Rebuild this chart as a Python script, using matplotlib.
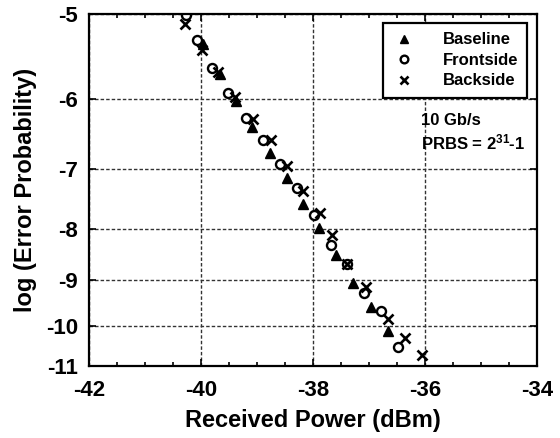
import numpy as np
import matplotlib
matplotlib.use("Agg")
import matplotlib.pyplot as plt

plt.rcParams['font.family'] = ['Liberation Sans', 'DejaVu Sans']
plt.rcParams['font.weight'] = 'bold'
plt.rcParams['axes.unicode_minus'] = False
plt.rcParams['mathtext.fontset'] = 'custom'
plt.rcParams['mathtext.rm'] = 'Liberation Sans:bold'
plt.rcParams['mathtext.default'] = 'rm'

# data (received power in dBm, log10 of error probability)
baseline_x = [-39.96, -39.66, -39.38, -39.09, -38.77, -38.46, -38.18, -37.89, -37.59, -37.29, -36.96, -36.66]
baseline_y = [-5.33, -5.68, -6.03, -6.37, -6.75, -7.13, -7.57, -7.99, -8.48, -9.06, -9.56, -10.13]

frontside_x = [-40.27, -40.07, -39.80, -39.52, -39.20, -38.89, -38.59, -38.29, -37.98, -37.68, -37.39, -37.09, -36.79, -36.48]
frontside_y = [-5.01, -5.28, -5.61, -5.92, -6.25, -6.56, -6.91, -7.29, -7.75, -8.29, -8.66, -9.27, -9.67, -10.50]

backside_x = [-40.29, -39.98, -39.70, -39.39, -39.07, -38.75, -38.46, -38.18, -37.88, -37.66, -37.39, -37.05, -36.66, -36.36, -36.05]
backside_y = [-5.11, -5.40, -5.66, -5.97, -6.26, -6.56, -6.94, -7.34, -7.71, -8.12, -8.66, -9.13, -9.85, -10.28, -10.70]

x_ticks = [-42, -40, -38, -36, -34]
y_ticks = [-5, -6, -7, -8, -9, -10, -11]

# BER style axis: compressed towards low probabilities
P = 0.15


def fwd(y):
    return np.power(np.clip(-np.asarray(y, dtype=float), 1e-3, None), -P)


def inv(f):
    return -np.power(np.clip(np.asarray(f, dtype=float), 1e-6, None), -1.0 / P)


fig = plt.figure(figsize=(5.6, 4.38), dpi=100)
ax = fig.add_axes([0.159, 0.164, 0.800, 0.804])
ax.set_yscale('function', functions=(fwd, inv))

ax.plot(baseline_x, baseline_y, ls='none', marker='^', ms=6.5, mfc='black', mec='black', label='Baseline')
ax.plot(frontside_x, frontside_y, ls='none', marker='o', ms=6.5, mfc='white', mec='black', mew=1.7, label='Frontside')
ax.plot(backside_x, backside_y, ls='none', marker='x', ms=7.5, mec='black', mew=1.9, label='Backside')

ax.set_xlim(-42, -34)
ax.set_ylim(-11, -5)
ax.set_xticks(x_ticks)
ax.set_xticklabels([str(v) for v in x_ticks])
ax.set_xticks(np.arange(-42, -33.9, 0.5), minor=True)
ax.set_yticks(y_ticks)
ax.set_yticklabels([str(v) for v in y_ticks])
ax.yaxis.set_minor_locator(matplotlib.ticker.NullLocator())

ax.tick_params(which='both', direction='in', top=True, right=True, width=1.2)
ax.tick_params(which='major', length=5, labelsize=16)
ax.tick_params(which='minor', length=3)
ax.tick_params(axis='x', pad=10)
ax.tick_params(axis='y', pad=8)
for s in ax.spines.values():
    s.set_linewidth(1.6)

ax.grid(True, which='major', color='#333333', ls=(0, (2.5, 1.5)), lw=1.0)

ax.set_xlabel('Received Power (dBm)', fontsize=17, fontweight='bold', labelpad=6)
ax.set_ylabel('log (Error Probability)', fontsize=17, fontweight='bold', labelpad=6)

leg = ax.legend(loc='upper right', bbox_to_anchor=(0.978, 0.974), borderaxespad=0,
                prop={'size': 12, 'weight': 'bold'}, frameon=True, fancybox=False, handlelength=1.4,
                handletextpad=1.6, labelspacing=0.33, borderpad=0.55, markerscale=0.85)
leg.get_frame().set_edgecolor('black')
leg.get_frame().set_linewidth(1.6)
leg.get_frame().set_alpha(1)

ax.text(0.741, 0.699, '10 Gb/s', transform=ax.transAxes, fontsize=12, fontweight='bold', va='center')
ax.text(0.741, 0.634, 'PRBS = 2$^{31}$-1', transform=ax.transAxes, fontsize=12, fontweight='bold', va='center')

fig.savefig('out.png', dpi=100)
